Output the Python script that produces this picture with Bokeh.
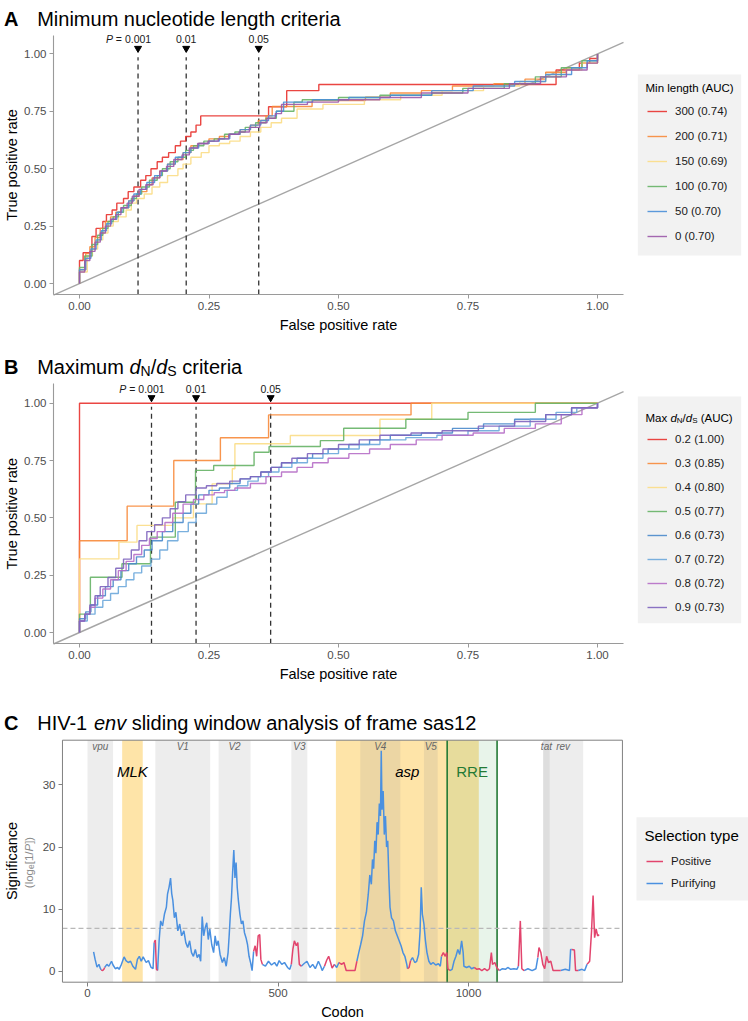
import math
from bokeh.plotting import figure
from bokeh.models import (Range1d, FixedTicker, PrintfTickFormatter, Label, Legend,
                          LegendItem, LinearAxis, Grid)
from bokeh.core.properties import value
from bokeh.embed import file_html
from bokeh.resources import INLINE

FONT = "Liberation Sans"

# ---------------- Panel A data ----------------
A_LABELS = ["300 (0.74)", "200 (0.71)", "150 (0.69)", "100 (0.70)", "50 (0.70)", "0 (0.70)"]
A_COLORS = ["#E8322E", "#F7893A", "#FBDD86", "#66B366", "#4A8FD8", "#9B58A8"]
A_300_FPR = [0, 0, 0.007, 0.024, 0.032, 0.045, 0.052, 0.063, 0.072, 0.085, 0.094, 0.105, 0.118, 0.128, 0.138, 0.15, 0.16, 0.172, 0.185, 0.195, 0.205, 0.215, 0.225, 0.234, 0.365, 0.40, 0.462, 0.92, 0.965, 0.985, 1.0]
A_300_TPR = [0, 0.10, 0.134, 0.205, 0.24, 0.27, 0.30, 0.32, 0.35, 0.37, 0.40, 0.42, 0.45, 0.47, 0.50, 0.53, 0.55, 0.57, 0.60, 0.62, 0.64, 0.66, 0.69, 0.73, 0.77, 0.84, 0.867, 0.93, 0.96, 0.98, 1.0]
A_200_FPR = [0, 0, 0.012, 0.02, 0.03, 0.04, 0.05, 0.06, 0.07, 0.08, 0.095, 0.105, 0.115, 0.13, 0.14, 0.155, 0.17, 0.185, 0.2, 0.215, 0.23, 0.25, 0.27, 0.29, 0.31, 0.33, 0.345, 0.36, 0.372, 0.449, 0.552, 0.6, 0.66, 0.72, 0.8, 0.86, 0.9, 0.94, 0.97, 1.0]
A_200_TPR = [0, 0.06, 0.13, 0.16, 0.2, 0.24, 0.27, 0.29, 0.31, 0.33, 0.36, 0.38, 0.4, 0.43, 0.46, 0.49, 0.52, 0.54, 0.57, 0.6, 0.61, 0.63, 0.64, 0.65, 0.67, 0.69, 0.71, 0.73, 0.771, 0.797, 0.811, 0.83, 0.84, 0.86, 0.87, 0.89, 0.92, 0.94, 0.96, 1.0]
A_150_FPR = [0, 0, 0.015, 0.025, 0.035, 0.045, 0.055, 0.065, 0.075, 0.09, 0.1, 0.11, 0.125, 0.14, 0.155, 0.17, 0.19, 0.2, 0.215, 0.235, 0.25, 0.27, 0.29, 0.31, 0.33, 0.35, 0.37, 0.39, 0.42, 0.47, 0.55, 0.62, 0.7, 0.78, 0.85, 0.9, 0.94, 0.97, 1.0]
A_150_TPR = [0, 0.05, 0.12, 0.15, 0.19, 0.22, 0.25, 0.27, 0.29, 0.32, 0.35, 0.37, 0.39, 0.42, 0.44, 0.47, 0.5, 0.52, 0.55, 0.57, 0.6, 0.61, 0.62, 0.64, 0.66, 0.68, 0.7, 0.72, 0.76, 0.78, 0.8, 0.82, 0.84, 0.86, 0.88, 0.91, 0.93, 0.96, 1.0]
A_100_FPR = [0, 0, 0.01, 0.024, 0.035, 0.045, 0.055, 0.065, 0.075, 0.085, 0.1, 0.11, 0.12, 0.135, 0.15, 0.16, 0.175, 0.19, 0.205, 0.22, 0.24, 0.26, 0.28, 0.3, 0.32, 0.34, 0.36, 0.38, 0.414, 0.43, 0.5, 0.58, 0.68, 0.74, 0.82, 0.88, 0.93, 0.97, 1.0]
A_100_TPR = [0, 0.07, 0.12, 0.17, 0.21, 0.24, 0.27, 0.29, 0.31, 0.34, 0.37, 0.39, 0.42, 0.45, 0.47, 0.5, 0.53, 0.55, 0.58, 0.6, 0.62, 0.63, 0.65, 0.66, 0.68, 0.7, 0.72, 0.75, 0.79, 0.8, 0.81, 0.82, 0.83, 0.85, 0.87, 0.9, 0.94, 0.97, 1.0]
A_50_FPR = [0, 0, 0.012, 0.022, 0.032, 0.042, 0.052, 0.062, 0.072, 0.082, 0.095, 0.105, 0.118, 0.13, 0.145, 0.158, 0.17, 0.185, 0.2, 0.215, 0.23, 0.25, 0.27, 0.29, 0.31, 0.33, 0.35, 0.365, 0.38, 0.394, 0.45, 0.52, 0.6, 0.68, 0.76, 0.84, 0.9, 0.95, 0.98, 1.0]
A_50_TPR = [0, 0.06, 0.11, 0.15, 0.19, 0.23, 0.26, 0.28, 0.31, 0.33, 0.36, 0.39, 0.41, 0.44, 0.47, 0.49, 0.52, 0.55, 0.57, 0.59, 0.61, 0.62, 0.63, 0.65, 0.67, 0.69, 0.71, 0.73, 0.75, 0.79, 0.8, 0.81, 0.82, 0.84, 0.86, 0.88, 0.91, 0.94, 0.97, 1.0]
A_0_FPR = [0, 0, 0.01, 0.02, 0.03, 0.04, 0.05, 0.06, 0.07, 0.08, 0.092, 0.102, 0.115, 0.128, 0.142, 0.155, 0.168, 0.182, 0.198, 0.212, 0.228, 0.248, 0.268, 0.288, 0.308, 0.328, 0.348, 0.362, 0.378, 0.39, 0.44, 0.5, 0.58, 0.66, 0.75, 0.83, 0.89, 0.94, 0.98, 1.0]
A_0_TPR = [0, 0.05, 0.1, 0.14, 0.18, 0.22, 0.25, 0.28, 0.3, 0.33, 0.35, 0.38, 0.41, 0.43, 0.46, 0.49, 0.51, 0.54, 0.56, 0.59, 0.61, 0.62, 0.63, 0.65, 0.66, 0.68, 0.7, 0.72, 0.74, 0.78, 0.79, 0.8, 0.81, 0.83, 0.85, 0.87, 0.9, 0.93, 0.96, 1.0]
A_THRESH = [0.113, 0.206, 0.346]

# ---------------- Panel B data ----------------
B_LABELS = ["0.2 (1.00)", "0.3 (0.85)", "0.4 (0.80)", "0.5 (0.77)", "0.6 (0.73)", "0.7 (0.72)", "0.8 (0.72)", "0.9 (0.73)"]
B_COLORS = ["#E8322E", "#F7893A", "#FBDD86", "#66B366", "#4A8ACB", "#6CA7DA", "#B66EC6", "#7E64BE"]
B_02_FPR = [0, 0, 1.0]
B_02_TPR = [0, 1.0, 1.0]
B_03_FPR = [0, 0, 0.092, 0.182, 0.272, 0.365, 0.64, 1.0]
B_03_TPR = [0, 0.40, 0.551, 0.75, 0.849, 0.949, 1.0, 1.0]
B_04_FPR = [0, 0, 0.076, 0.111, 0.18, 0.22, 0.256, 0.295, 0.30, 0.407, 0.58, 0.68, 1.0]
B_04_TPR = [0, 0.321, 0.394, 0.467, 0.50, 0.561, 0.648, 0.714, 0.823, 0.859, 0.93, 1.0, 1.0]
B_05_FPR = [0, 0, 0.021, 0.082, 0.137, 0.185, 0.224, 0.259, 0.337, 0.366, 0.465, 0.51, 0.63, 0.75, 0.88, 1.0]
B_05_TPR = [0, 0.08, 0.241, 0.3, 0.416, 0.568, 0.707, 0.728, 0.786, 0.811, 0.837, 0.891, 0.93, 0.96, 1.0, 1.0]
B_06_FPR = [0, 0, 0.012, 0.022, 0.035, 0.05, 0.065, 0.08, 0.095, 0.11, 0.125, 0.14, 0.16, 0.18, 0.2, 0.215, 0.23, 0.25, 0.27, 0.29, 0.31, 0.33, 0.35, 0.37, 0.39, 0.42, 0.45, 0.48, 0.52, 0.56, 0.6, 0.66, 0.72, 0.78, 0.84, 0.9, 0.95, 1.0]
B_06_TPR = [0, 0.06, 0.09, 0.12, 0.16, 0.2, 0.23, 0.27, 0.3, 0.33, 0.36, 0.4, 0.44, 0.48, 0.52, 0.56, 0.6, 0.62, 0.63, 0.65, 0.67, 0.68, 0.7, 0.72, 0.74, 0.76, 0.78, 0.8, 0.82, 0.84, 0.86, 0.87, 0.89, 0.91, 0.93, 0.95, 0.98, 1.0]
B_07_FPR = [0, 0, 0.015, 0.03, 0.045, 0.06, 0.075, 0.09, 0.105, 0.12, 0.138, 0.155, 0.17, 0.19, 0.21, 0.225, 0.245, 0.265, 0.285, 0.305, 0.325, 0.345, 0.365, 0.385, 0.41, 0.44, 0.47, 0.5, 0.54, 0.58, 0.63, 0.69, 0.75, 0.81, 0.87, 0.92, 0.96, 1.0]
B_07_TPR = [0, 0.05, 0.08, 0.11, 0.14, 0.17, 0.2, 0.23, 0.26, 0.29, 0.32, 0.36, 0.4, 0.44, 0.48, 0.52, 0.56, 0.59, 0.62, 0.64, 0.66, 0.68, 0.7, 0.72, 0.74, 0.76, 0.78, 0.8, 0.82, 0.84, 0.85, 0.86, 0.88, 0.9, 0.93, 0.96, 0.98, 1.0]
B_08_FPR = [0, 0, 0.01, 0.02, 0.03, 0.045, 0.06, 0.075, 0.09, 0.105, 0.12, 0.135, 0.15, 0.165, 0.18, 0.2, 0.22, 0.24, 0.26, 0.28, 0.3, 0.33, 0.36, 0.39, 0.42, 0.45, 0.48, 0.52, 0.56, 0.6, 0.65, 0.7, 0.76, 0.82, 0.88, 0.93, 0.97, 1.0]
B_08_TPR = [0, 0.05, 0.08, 0.11, 0.15, 0.19, 0.23, 0.27, 0.31, 0.34, 0.38, 0.41, 0.44, 0.48, 0.52, 0.56, 0.58, 0.6, 0.61, 0.62, 0.63, 0.65, 0.68, 0.7, 0.72, 0.74, 0.76, 0.78, 0.8, 0.82, 0.84, 0.86, 0.87, 0.89, 0.91, 0.95, 0.98, 1.0]
B_09_FPR = [0, 0, 0.01, 0.02, 0.03, 0.04, 0.055, 0.07, 0.085, 0.1, 0.115, 0.13, 0.145, 0.16, 0.175, 0.19, 0.205, 0.225, 0.245, 0.265, 0.29, 0.31, 0.33, 0.35, 0.37, 0.39, 0.41, 0.44, 0.47, 0.5, 0.54, 0.58, 0.64, 0.7, 0.77, 0.84, 0.9, 0.95, 1.0]
B_09_TPR = [0, 0.05, 0.08, 0.12, 0.16, 0.2, 0.24, 0.28, 0.32, 0.36, 0.4, 0.44, 0.47, 0.5, 0.54, 0.57, 0.6, 0.63, 0.64, 0.65, 0.66, 0.67, 0.68, 0.7, 0.72, 0.74, 0.76, 0.78, 0.8, 0.82, 0.84, 0.86, 0.87, 0.88, 0.9, 0.92, 0.95, 0.98, 1.0]
B_THRESH = [0.139, 0.225, 0.369]
THRESH_TEXT = ["0.001", "0.01", "0.05"]

# ---------------- Panel C data ----------------
C_CODON = [16, 20, 25, 30, 34, 36, 40, 43, 45, 51, 56, 63, 67, 73, 79, 83, 89, 96, 101, 107, 113, 119, 126, 131, 136, 141, 146, 154, 160, 167, 172,
           175, 178, 181, 184, 188, 192, 197, 202, 207, 210, 214, 218, 221, 224, 228, 232, 237, 242, 247, 253, 258, 263, 268, 273, 278, 283, 288, 293, 297,
           301, 305, 309, 313, 317, 321, 326, 331, 335, 339, 343, 348, 354, 359, 364, 369, 372, 375, 378, 381, 384, 387, 390, 393, 396, 400, 404, 408, 412,
           416, 420, 424, 428, 432, 436, 440, 444, 448, 452, 455, 459, 467, 475, 483, 491, 497, 503, 510, 517, 525, 531, 535, 539, 543, 548, 552, 556,
           561, 568, 576, 584, 591, 598, 606, 612, 616, 622, 628, 633, 638, 642, 648, 654, 660, 667, 673, 679, 692, 702,
           707, 712, 717, 722, 727, 732, 737, 741, 745, 748, 751, 754, 757, 760, 763, 766, 769, 771, 773, 776, 779, 782, 785, 788, 791, 794,
           798, 803, 808, 813, 818, 823, 828, 833, 838, 840, 844, 848, 853, 859, 864, 869, 873, 876, 879, 883, 887, 891, 896, 901, 907, 914, 921, 926,
           929, 934, 939, 943, 946, 951, 957, 962, 967, 972, 977, 982, 986, 988, 995, 1002, 1008,
           1015, 1022, 1028, 1035, 1042, 1049, 1055, 1060, 1063, 1069, 1075, 1081, 1089, 1097, 1103, 1111, 1119, 1127, 1131, 1136, 1140,
           1146, 1156, 1167, 1177, 1182, 1185, 1190, 1195, 1200, 1205, 1210, 1216, 1222, 1232, 1242, 1254, 1265, 1268, 1271, 1278, 1281,
           1288, 1298, 1305, 1311, 1318, 1323, 1327, 1331, 1335, 1339, 1343]
C_SIG = [3.1, 1.9, 0.65, 1.1, 0.4, 0.2, 0.1, 0.3, 0.6, 1.1, 0.8, 1.6, 1.0, 0.4, 0.6, 0.3, 1.1, 2.3, 1.7, 1.4, 1.6, 0.8, 0.3, 1.9, 2.4, 1.6, 2.3, 1.4, 1.7, 0.6, 0.4,
         4.6, 5.0, 0.3, 0.1, 4.9, 8.1, 7.3, 9.2, 10.3, 12.4, 13.5, 15.0, 12.5, 11.4, 8.6, 9.5, 6.5, 7.6, 5.7, 6.5, 4.6, 3.8, 4.9, 3.0, 2.4, 3.5, 2.2, 2.7, 1.6,
         8.8, 5.7, 7.0, 7.8, 5.1, 6.8, 4.3, 3.0, 5.7, 4.1, 4.9, 2.7, 1.4, 2.2, 0.8, 3.0, 5.9, 9.2, 11.9, 16.0, 19.5, 15.0, 17.5, 13.5, 11.4, 9.2, 7.6, 8.1, 6.2,
         5.4, 4.3, 2.4, 1.4, 0.1, 3.2, 4.1, 2.4, 5.7, 5.9, 1.9, 1.1, 0.8, 1.6, 1.0, 1.4, 0.8, 1.7, 1.1, 1.4, 0.6, 0.3, 1.1, 3.5, 4.9, 4.1, 4.6, 1.1,
         0.8, 1.2, 1.6, 0.6, 1.1, 0.4, 1.6, 0.8, 0.1, 0.8, 1.8, 2.4, 1.4, 0.5, 1.1, 0.6, 1.4, 1.1, 1.4, 0.1, 0.1, 0.1,
         1.6, 3.0, 4.3, 5.7, 8.1, 9.5, 12.4, 15.5, 14.0, 18.0, 16.5, 21.0, 19.0, 24.0, 22.0, 27.0, 25.0, 35.5, 26.0, 29.0, 22.0, 25.0, 20.0, 21.0, 15.0, 10.3,
         8.6, 8.1, 6.5, 5.7, 4.9, 4.1, 3.0, 2.4, 1.1, 0.4, 0.6, 1.7, 2.2, 1.4, 1.6, 2.7, 6.5, 13.5, 9.2, 7.6, 4.9, 3.0, 1.6, 1.1, 1.4, 1.0, 1.2, 0.8,
         2.4, 3.0, 2.4, 3.0, 0.4, 0.1, 0.3, 1.6, 2.4, 3.5, 2.7, 4.9, 3.0, 0.8, 0.6, 0.8, 0.4,
         0.6, 0.3, 0.4, 0.1, 0.4, 0.1, 0.4, 3.0, 1.1, 1.4, 0.5, 0.1, 0.4, 0.3, 0.6, 0.3, 0.4, 0.3, 0.8, 8.1, 0.4,
         0.1, 0.4, 0.1, 0.4, 2.2, 3.8, 3.0, 1.1, 0.4, 2.4, 1.4, 1.6, 0.1, 0.1, 0.1, 0.3, 0.1, 3.5, 3.5, 3.4, 0.1,
         0.1, 0.3, 0.1, 1.1, 1.6, 6.5, 12.2, 5.4, 6.8, 5.7, 5.9]
# codon intervals where the window shows positive selection
POS_START = [36, 175, 436, 535, 622, 660, 840, 929, 1015, 1131, 1182, 1271, 1311]
POS_END = [43, 181, 455, 556, 642, 702, 844, 946, 1075, 1140, 1232, 1281, 1343]
THRESHOLD = math.log(1000)

GRAY_NAMES = ["vpu", "V1", "V2", "V3", "V4", "V5", "tat", "rev"]
GRAY_START = [0, 178, 344, 535, 716, 883, 1196, 1196]
GRAY_END = [67, 322, 428, 577, 821, 919, 1213, 1301]
ORANGE_NAMES = ["MLK", "asp"]
ORANGE_START = [91, 652]
ORANGE_END = [145, 1027]
RRE_START = 944
RRE_END = 1075

# ---------------- layout (canvas pixels) ----------------
CW, CH = 748, 1020
A_XLIM = (-0.0502, 1.0502)
A_YLIM = (-0.048, 1.080)
B_YLIM = (-0.049, 1.0846)
C_XLIM = (-65.7, 1404.0)
C_YLIM = (-1.77, 37.2)


def xrange_for(zero_px, ppu):
    return Range1d(-zero_px / ppu, (CW - zero_px) / ppu)


def yrange_for(zero_px, ppu):
    return Range1d((zero_px - CH) / ppu, zero_px / ppu)


W = {' ': 278, '(': 333, ')': 333, ',': 278, '-': 333, '.': 278, '/': 278, '=': 584, '[': 278, ']': 278,
     'A': 667, 'B': 667, 'C': 722, 'D': 722, 'E': 667, 'F': 611, 'G': 778, 'H': 722, 'I': 278, 'J': 500,
     'K': 667, 'L': 556, 'M': 833, 'N': 722, 'O': 778, 'P': 667, 'Q': 778, 'R': 722, 'S': 667, 'T': 611,
     'U': 722, 'V': 667, 'W': 944, 'X': 667, 'Y': 667, 'Z': 611,
     'a': 556, 'b': 556, 'c': 500, 'd': 556, 'e': 556, 'f': 278, 'g': 556, 'h': 556, 'i': 222, 'j': 222,
     'k': 500, 'l': 222, 'm': 833, 'n': 556, 'o': 556, 'p': 556, 'q': 556, 'r': 333, 's': 500, 't': 278,
     'u': 556, 'v': 500, 'w': 722, 'x': 500, 'y': 500, 'z': 500}


def tw(s, size):
    return sum(W.get(c, 556) for c in s) * size / 1000.0


p = figure(width=CW, height=CH, x_range=Range1d(0, CW), y_range=Range1d(CH, 0),
           min_border=0, x_axis_location=None, y_axis_location=None, tools="",
           toolbar_location=None, output_backend="svg", outline_line_color=None,
           background_fill_color="white", border_fill_color="white")
for g in p.select(type=Grid):
    g.visible = False
p.extra_x_ranges = {"xA": xrange_for(79, 518.0), "xC": xrange_for(87, 0.381)}
p.extra_y_ranges = {"yA": yrange_for(283, 229.6), "yB": yrange_for(632, 229.3),
                    "yC": yrange_for(970.7, 6.21)}


def label(x, y, text, size, style="normal", color="black", align="left",
          baseline="alphabetic", angle=0.0, x_offset=0, y_offset=0, xr=None, yr=None):
    kw = {}
    if xr:
        kw["x_range_name"] = xr
    if yr:
        kw["y_range_name"] = yr
    p.add_layout(Label(x=x, y=y, text=text, text_font=FONT, text_font_size=f"{size}px",
                       text_font_style=style, text_color=color, text_align=align,
                       text_baseline=baseline, angle=angle, x_offset=x_offset,
                       y_offset=y_offset, level="overlay", **kw))


def text_runs(x, base, runs):
    for (t, size, style, dy, color) in runs:
        lead = len(t) - len(t.lstrip(" "))
        s = t.strip(" ")
        if s:
            label(x + lead * W[' '] * size / 1000.0, base + dy, s, size, style, color)
        x += tw(t, size)
    return x


def text_runs_up(bx, y, runs):
    for (t, size, style, dx, color) in runs:
        lead = len(t) - len(t.lstrip(" "))
        s = t.strip(" ")
        if s:
            label(bx + dx, y - lead * W[' '] * size / 1000.0, s, size, style, color,
                  angle=math.pi / 2)
        y -= tw(t, size)
    return y


def legend_box(left, right, top, bottom):
    # light grey legend panel, in canvas pixels
    p.quad(left=[left], right=[right], top=[top], bottom=[bottom],
           fill_color="#F2F2F2", line_color=None)


def add_legend(items, glyph_x, last_center, spacing, glyph_w, label_size):
    n = len(items)
    leg = Legend(items=items, location=(glyph_x, CH - (last_center + 10)),
                 label_text_font=FONT, label_text_font_size=label_size,
                 label_text_color="#1A1A1A", glyph_width=glyph_w, glyph_height=20,
                 label_height=20, label_standoff=8, spacing=spacing, padding=0, margin=0,
                 background_fill_alpha=0.0, border_line_color=None)
    p.add_layout(leg)


def add_axes(xr, yr, xlim, ylim, xticks, yticks, fmt, line_color, draw_lines):
    xa = LinearAxis(x_range_name=xr, y_range_name=yr, fixed_location=ylim[0], bounds=xlim,
                    ticker=FixedTicker(ticks=xticks))
    ya = LinearAxis(x_range_name=xr, y_range_name=yr, fixed_location=xlim[0], bounds=ylim,
                    ticker=FixedTicker(ticks=yticks))
    for ax in (xa, ya):
        if fmt:
            ax.formatter = PrintfTickFormatter(format=fmt)
        ax.major_label_text_font = FONT
        ax.major_label_text_font_size = "11.5px"
        ax.major_label_text_color = "#4D4D4D"
        ax.major_tick_out = 4
        ax.major_tick_in = 0
        ax.minor_tick_line_color = None
        ax.major_label_standoff = 3
        ax.major_tick_line_color = line_color
        ax.axis_line_color = line_color if draw_lines else None
        ax.axis_line_width = 1.1
    p.add_layout(xa, "below")
    p.add_layout(ya, "left")


def roc_panel(yr, ylim, series, colors, labels, thresh):
    xr = "xA"
    add_axes(xr, yr, A_XLIM, ylim, [0, 0.25, 0.5, 0.75, 1.0], [0, 0.25, 0.5, 0.75, 1.0],
             "%.2f", "#9A9A9A", True)
    p.line(x=list(A_XLIM), y=list(A_XLIM), line_color="#A6A6A6", line_width=1.4,
           x_range_name=xr, y_range_name=yr)
    p.segment(x0=thresh, y0=[ylim[0]] * len(thresh), x1=thresh, y1=[0.985] * len(thresh),
              line_color="#333333", line_width=1.3, line_dash="5 4",
              x_range_name=xr, y_range_name=yr)
    p.scatter(x=thresh, y=[1.024] * len(thresh), marker="inverted_triangle", size=7,
              color="black", x_range_name=xr, y_range_name=yr)
    items = []
    for (fpr, tpr), c, l in zip(series, colors, labels):
        n = min(len(fpr), len(tpr))
        r = p.step(x=fpr[:n], y=tpr[:n], mode="after", line_color=c, line_width=1.4,
                   line_alpha=0.9, x_range_name=xr, y_range_name=yr)
        items.append(LegendItem(label=l, renderers=[r]))
    for i, (x, t) in enumerate(zip(thresh, THRESH_TEXT)):
        label(x, 1.064, t, 10.5, color="#1A1A1A", align="center", baseline="middle",
              xr=xr, yr=yr)
        if i == 0:
            half = tw(t, 10.5) / 2.0
            label(x, 1.064, "=", 10.5, color="#1A1A1A", align="center", baseline="middle",
                  x_offset=-(half + 2.9 + 3.07), xr=xr, yr=yr)
            label(x, 1.064, "P", 10.5, style="italic", color="#1A1A1A", align="right",
                  baseline="middle", x_offset=-(half + 12.0), xr=xr, yr=yr)
    return items


# ---------------- Panel A ----------------
A_SERIES = [(A_300_FPR, A_300_TPR), (A_200_FPR, A_200_TPR), (A_150_FPR, A_150_TPR),
            (A_100_FPR, A_100_TPR), (A_50_FPR, A_50_TPR), (A_0_FPR, A_0_TPR)]
legend_box(637.3, 740.7, 74, 255)
itemsA = roc_panel("yA", A_YLIM, A_SERIES, A_COLORS, A_LABELS, A_THRESH)
add_legend(itemsA, 647, 236, 5, 20, "11.5px")
label(645, 87.5, "Min length (AUC)", 11.5, baseline="middle")
label(3.5, 18, "A", 20, style="bold")
text_runs(36.7, 18, [("Minimum nucleotide length criteria", 20, "normal", 0, "black")])
label(11, 164.5, "True positive rate", 14.5, align="center", baseline="middle", angle=math.pi / 2)
label(338, 324, "False positive rate", 14.5, align="center", baseline="middle")

# ---------------- Panel B ----------------
B_SERIES = [(B_02_FPR, B_02_TPR), (B_03_FPR, B_03_TPR), (B_04_FPR, B_04_TPR), (B_05_FPR, B_05_TPR),
            (B_06_FPR, B_06_TPR), (B_07_FPR, B_07_TPR), (B_08_FPR, B_08_TPR), (B_09_FPR, B_09_TPR)]
legend_box(637.3, 740.7, 396, 622.7)
itemsB = roc_panel("yB", B_YLIM, B_SERIES, B_COLORS, B_LABELS, B_THRESH)
add_legend(itemsB, 647, 607, 4, 20, "11.5px")
text_runs(645, 417.3, [
    ("Max ", 11.5, "normal", 0, "black"), ("d", 11.5, "italic", 0, "black"),
    ("N", 8, "normal", 2.5, "black"), ("/", 11.5, "normal", 0, "black"),
    ("d", 11.5, "italic", 0, "black"), ("S", 8, "normal", 2.5, "black"),
    (" (AUC)", 11.5, "normal", 0, "black")])
label(3.5, 366.7, "B", 20, style="bold")
text_runs(36.7, 366.7, [
    ("Maximum ", 20, "normal", 0, "black"), ("d", 20, "italic", 0, "black"),
    ("N", 14, "normal", 4, "black"), ("/", 20, "normal", 0, "black"),
    ("d", 20, "italic", 0, "black"), ("S", 14, "normal", 4, "black"),
    (" criteria", 20, "normal", 0, "black")])
label(11, 513.3, "True positive rate", 14.5, align="center", baseline="middle", angle=math.pi / 2)
label(338, 673.5, "False positive rate", 14.5, align="center", baseline="middle")

# ---------------- Panel C ----------------
xr, yr = "xC", "yC"
p.quad(left=ORANGE_START, right=ORANGE_END, bottom=C_YLIM[0], top=C_YLIM[1],
       fill_color="#FEE4A8", line_color=None, x_range_name=xr, y_range_name=yr)
p.quad(left=GRAY_START, right=GRAY_END, bottom=C_YLIM[0], top=C_YLIM[1],
       fill_color="#969696", fill_alpha=0.17, line_color=None, x_range_name=xr, y_range_name=yr)
p.quad(left=[RRE_START], right=[RRE_END], bottom=C_YLIM[0], top=C_YLIM[1],
       fill_color="#2E9E3E", fill_alpha=0.11, line_color=None, x_range_name=xr, y_range_name=yr)
p.segment(x0=[RRE_START, RRE_END], x1=[RRE_START, RRE_END], y0=[C_YLIM[0]] * 2,
          y1=[C_YLIM[1]] * 2, line_color="#237A35", line_width=1.6,
          x_range_name=xr, y_range_name=yr)
p.segment(x0=[C_XLIM[0]], x1=[C_XLIM[1]], y0=[THRESHOLD], y1=[THRESHOLD],
          line_color="#B8B8B8", line_width=1.2, line_dash="5 3",
          x_range_name=xr, y_range_name=yr)


def is_pos(c):
    return any(s <= c <= e for s, e in zip(POS_START, POS_END))


sel = [is_pos(c) for c in C_CODON]
pos_xs, pos_ys, pur_xs, pur_ys = [], [], [], []
i = 0
n = min(len(C_CODON), len(C_SIG))
while i < n:
    j = i
    while j + 1 < n and sel[j + 1] == sel[i]:
        j += 1
    end = min(j + 1, n - 1)
    xs, ys = C_CODON[i:end + 1], C_SIG[i:end + 1]
    if sel[i]:
        pos_xs.append(xs); pos_ys.append(ys)
    else:
        pur_xs.append(xs); pur_ys.append(ys)
    i = j + 1

r_pur = p.multi_line(xs=pur_xs, ys=pur_ys, line_color="#4A90E0", line_width=1.5,
                     x_range_name=xr, y_range_name=yr)
r_pos = p.multi_line(xs=pos_xs, ys=pos_ys, line_color="#E2446D", line_width=1.5,
                     x_range_name=xr, y_range_name=yr)

g_centers = [(s + e) / 2.0 for s, e in zip(GRAY_START, GRAY_END)]
p.text(x=g_centers, y=[36.2] * len(g_centers), text=GRAY_NAMES, text_font=value(FONT),
       text_font_size="10px", text_font_style="italic", text_color="#666666",
       text_align="center", text_baseline="middle", x_range_name=xr, y_range_name=yr)
o_centers = [(s + e) / 2.0 for s, e in zip(ORANGE_START, ORANGE_END)]
p.text(x=o_centers, y=[32.1] * len(o_centers), text=ORANGE_NAMES, text_font=value(FONT),
       text_font_size="15px", text_font_style="italic", text_color="black",
       text_align="center", text_baseline="middle", x_range_name=xr, y_range_name=yr)
p.text(x=[(RRE_START + RRE_END) / 2.0], y=[32.1], text=["RRE"], text_font=value(FONT),
       text_font_size="15px", text_color="#237A35", text_align="center",
       text_baseline="middle", x_range_name=xr, y_range_name=yr)
p.quad(left=[C_XLIM[0]], right=[C_XLIM[1]], bottom=[C_YLIM[0]], top=[C_YLIM[1]],
       fill_color=None, line_color="#808080", line_width=1, x_range_name=xr, y_range_name=yr)
add_axes(xr, yr, C_XLIM, C_YLIM, [0, 500, 1000], [0, 10, 20, 30], None, "#808080", False)

legend_box(636, CW, 816.7, 900)
add_legend([LegendItem(label="Positive", renderers=[r_pos]),
            LegendItem(label="Purifying", renderers=[r_pur])], 646, 882.7, 2, 17, "11.5px")
label(644, 835, "Selection type", 15, baseline="middle")

label(3.5, 722, "C", 20, style="bold")
text_runs(36.7, 722, [
    ("HIV-1 ", 20, "normal", 0, "black"), ("env", 20, "italic", 0, "black"),
    (" sliding window analysis of frame sas12", 20, "normal", 0, "black")])
label(11, 860.5, "Significance", 14.5, align="center", baseline="middle", angle=math.pi / 2)
sub_runs = [("(log", 11.5, "normal", 0, "#8C8C8C"), ("e", 8.5, "normal", 2.5, "#8C8C8C"),
            ("[1/", 11.5, "normal", 0, "#8C8C8C"), ("P", 11.5, "italic", 0, "#8C8C8C"),
            ("])", 11.5, "normal", 0, "#8C8C8C")]
sub_len = sum(tw(t, s) for t, s, _, _, _ in sub_runs)
text_runs_up(28, 862 + sub_len / 2.0, sub_runs)
label(342, 1011, "Codon", 14.5, align="center", baseline="middle")

open("out.html", "w").write(file_html(p, INLINE))
